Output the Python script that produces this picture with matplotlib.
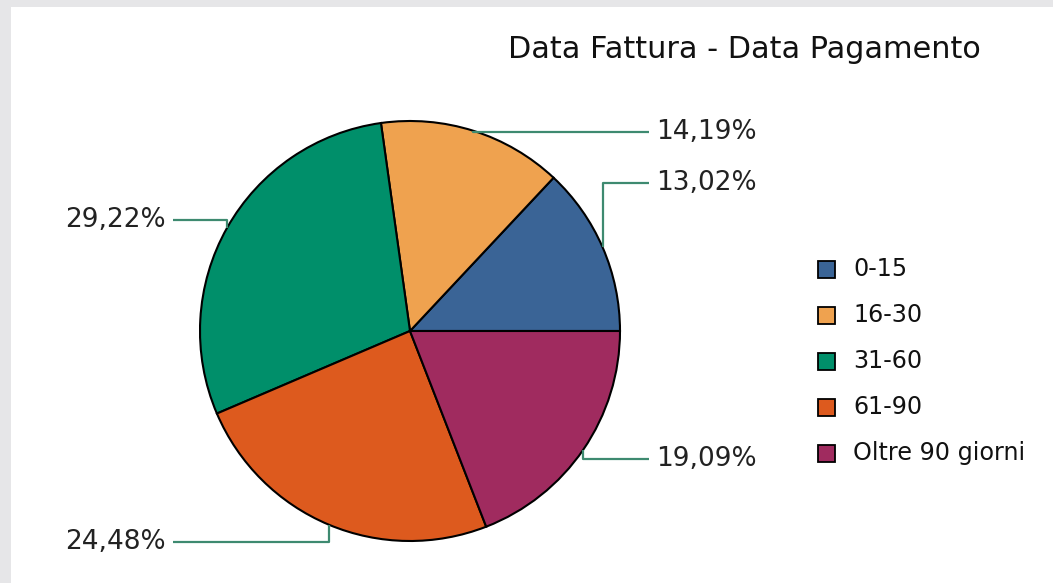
import matplotlib
matplotlib.use("Agg")
import matplotlib.pyplot as plt
from matplotlib.patches import Rectangle
import numpy as np

# ---- data ----
categories = ["0-15", "16-30", "31-60", "61-90", "Oltre 90 giorni"]
values = [13.02, 14.19, 29.22, 24.48, 19.09]
value_labels = ["13,02%", "14,19%", "29,22%", "24,48%", "19,09%"]
colors = ["#3A6496", "#EFA24F", "#008F6A", "#DD5A1E", "#A02B5F"]
title = "Data Fattura - Data Pagamento"

# ---- layout (pixel space, y measured from top) ----
W, H = 1053, 583
cx, cy, R = 410, 331, 210
label_y = [183, 132, 220, 542, 459]      # vertical position of each value label
right_line_x, left_line_x = 649, 173
right_text_x, left_text_x = 656, 166
leader_color = "#3E8A70"

fig = plt.figure(figsize=(W / 100, H / 100), dpi=100, facecolor="#E6E6E8")
ax = fig.add_axes([0, 0, 1, 1])
ax.set_facecolor("none")

def Y(y):
    return H - y

# white panel
ax.add_patch(Rectangle((11, 0), W - 11, H - 7, facecolor="white",
                       edgecolor="none", zorder=0))

wedges, _ = ax.pie(values, colors=colors, startangle=0, counterclock=True,
                   center=(cx, Y(cy)), radius=R,
                   wedgeprops=dict(edgecolor="black", linewidth=1.5, zorder=2))

# leader lines + labels
total = sum(values)
cum = np.cumsum([0] + values[:-1])
for v, c0, lab, ly in zip(values, cum, value_labels, label_y):
    mid = np.deg2rad((c0 + v / 2) / total * 360)
    ax_x = cx + R * np.cos(mid)
    ax_y = cy - R * np.sin(mid)
    right = np.cos(mid) >= 0
    end_x = right_line_x if right else left_line_x
    ax.plot([ax_x, ax_x, end_x], [Y(ax_y), Y(ly), Y(ly)], color=leader_color,
            lw=1.6, solid_capstyle="butt", zorder=3)
    if right:
        ax.text(right_text_x, Y(ly), lab, ha="left", va="center",
                fontsize=19, color="#222222", family="DejaVu Sans")
    else:
        ax.text(left_text_x, Y(ly), lab, ha="right", va="center",
                fontsize=19, color="#222222", family="DejaVu Sans")

# title
ax.text(744, Y(50), title, ha="center", va="center", fontsize=21.8,
        color="#111111", family="DejaVu Sans")

# legend
leg_x, leg_y0, leg_dy, sq = 818, 269, 46.0, 17
for i, (cat, col) in enumerate(zip(categories, colors)):
    yy = leg_y0 + i * leg_dy
    ax.add_patch(Rectangle((leg_x, Y(yy + sq / 2)), sq, sq, facecolor=col,
                           edgecolor="black", linewidth=1.3, zorder=3))
    ax.text(853, Y(yy), cat, ha="left", va="center", fontsize=17.2,
            color="#111111", family="DejaVu Sans")

ax.set_xlim(0, W)
ax.set_ylim(0, H)
ax.set_aspect("equal")
ax.set_axis_off()

fig.savefig("out.png", dpi=100, facecolor=fig.get_facecolor())
